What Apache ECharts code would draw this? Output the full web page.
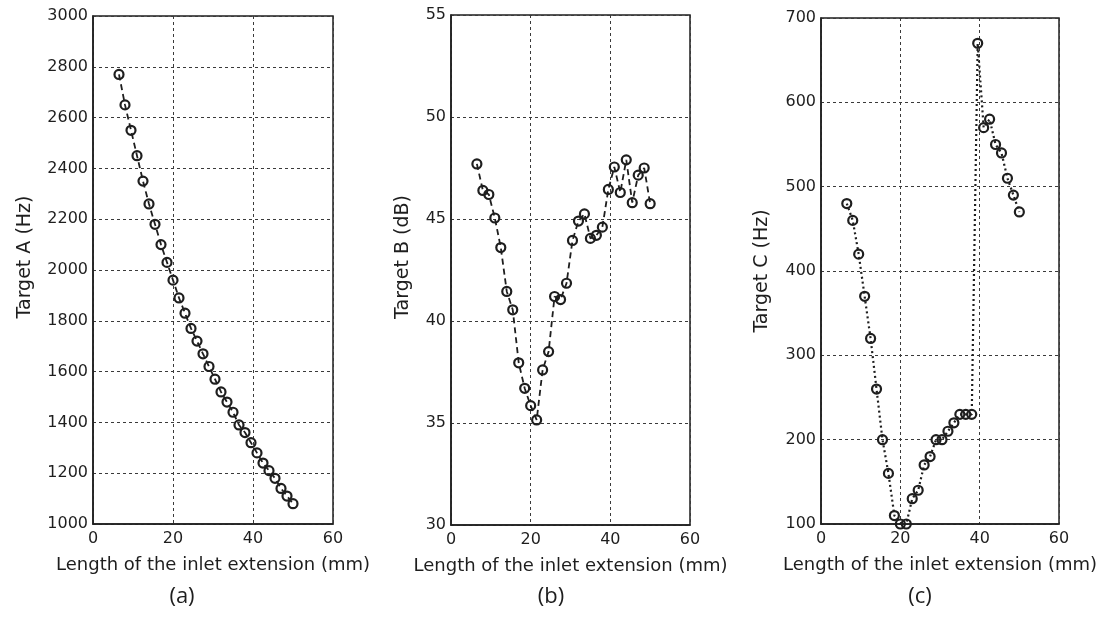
<!DOCTYPE html>
<html>
<head>
<meta charset="utf-8">
<script src="https://cdn.jsdelivr.net/npm/echarts@6/dist/echarts.min.js"></script>
<style>
  html, body { margin: 0; padding: 0; background: #fff; }
  #chart { width: 1100px; height: 617px; }
</style>
</head>
<body>
<div id="chart"></div>
<script>
// ---- Data ----
const inletLength = [6.5, 8, 9.5, 11, 12.5, 14, 15.5, 17, 18.5, 20, 21.5, 23, 24.5, 26, 27.5, 29, 30.5, 32, 33.5, 35, 36.5, 38, 39.5, 41, 42.5, 44, 45.5, 47, 48.5, 50];
const targetA = [2770, 2650, 2550, 2450, 2350, 2260, 2180, 2100, 2030, 1960, 1890, 1830, 1770, 1720, 1670, 1620, 1570, 1520, 1480, 1440, 1390, 1360, 1320, 1280, 1240, 1210, 1180, 1140, 1110, 1080];
const targetB = [47.7, 46.4, 46.2, 45.05, 43.6, 41.45, 40.55, 37.95, 36.7, 35.85, 35.15, 37.6, 38.5, 41.2, 41.05, 41.85, 43.95, 44.9, 45.25, 44.05, 44.2, 44.6, 46.45, 47.55, 46.3, 47.9, 45.8, 47.15, 47.5, 45.75];
const targetC = [480, 460, 420, 370, 320, 260, 200, 160, 110, 100, 100, 130, 140, 170, 180, 200, 200, 210, 220, 230, 230, 230, 670, 570, 580, 550, 540, 510, 490, 470];

const xTitle = 'Length of the inlet extension (mm)';
const yTitles = ['Target A (Hz)', 'Target B (dB)', 'Target C (Hz)'];
const panelLabels = ['(a)', '(b)', '(c)'];
const yRanges = [[1000, 3000, 200], [30, 55, 5], [100, 700, 100]];
const xRange = [0, 60, 20];

// ---- Styling ----
const INK = '#1e1e1e';
const FONT = 'DejaVu Sans';
const grids = [
  { left: 93, top: 16, width: 240, height: 508 },
  { left: 451, top: 15, width: 239, height: 510 },
  { left: 821, top: 18, width: 241, height: 506 }
];
const nameGaps = [58, 38, 49];
const namePads = [[0, 0, 0, 26], [0, 0, 0, 26], [0, 0, 0, 0]];
const lineTypes = [[6, 4], [6, 4], [2, 3]];
const panelLabelPos = [[182, 597], [551, 597], [920, 597]];

const chart = echarts.init(document.getElementById('chart'), null, { renderer: 'canvas' });

const splitLine = { show: true, lineStyle: { color: '#3a3a3a', width: 1, type: [3, 3] } };

const option = {
  animation: false,
  backgroundColor: '#fff',
  grid: grids.map(g => Object.assign({ show: true, borderColor: INK, borderWidth: 1.5, backgroundColor: 'transparent', containLabel: false }, g)),
  xAxis: grids.map((g, i) => ({
    type: 'value', gridIndex: i, min: xRange[0], max: xRange[1], interval: xRange[2],
    name: xTitle, nameLocation: 'middle', nameGap: 32,
    nameTextStyle: { fontFamily: FONT, fontSize: 18, color: INK },
    axisLine: { show: true, lineStyle: { color: INK, width: 1.5 } },
    axisTick: { show: false },
    axisLabel: { fontFamily: FONT, fontSize: 16, color: INK, margin: 7 },
    splitLine: splitLine
  })),
  yAxis: grids.map((g, i) => ({
    type: 'value', gridIndex: i, min: yRanges[i][0], max: yRanges[i][1], interval: yRanges[i][2],
    name: yTitles[i], nameLocation: 'middle', nameGap: nameGaps[i],
    nameTextStyle: { fontFamily: FONT, fontSize: 19, color: INK, padding: namePads[i] },
    axisLine: { show: true, lineStyle: { color: INK, width: 1.5 } },
    axisTick: { show: false },
    axisLabel: { fontFamily: FONT, fontSize: 16, color: INK, margin: 5, formatter: v => String(v) },
    splitLine: splitLine
  })),
  series: [targetA, targetB, targetC].map((vals, i) => ({
    type: 'line', xAxisIndex: i, yAxisIndex: i,
    data: inletLength.map((x, k) => [x, vals[k]]),
    clip: false,
    symbol: 'circle', symbolSize: 9,
    itemStyle: { color: 'rgba(0,0,0,0)', borderColor: INK, borderWidth: 2.2 },
    lineStyle: { color: INK, width: i === 2 ? 2.2 : 1.8, type: lineTypes[i] },
    emphasis: { disabled: true },
    z: 3
  })),
  graphic: panelLabels.map((t, i) => ({
    type: 'text',
    x: panelLabelPos[i][0], y: panelLabelPos[i][1],
    style: { text: t, font: '22px "Open Sans"', fill: INK, textAlign: 'center', textVerticalAlign: 'middle' }
  }))
};
chart.setOption(option);
</script>
</body>
</html>
